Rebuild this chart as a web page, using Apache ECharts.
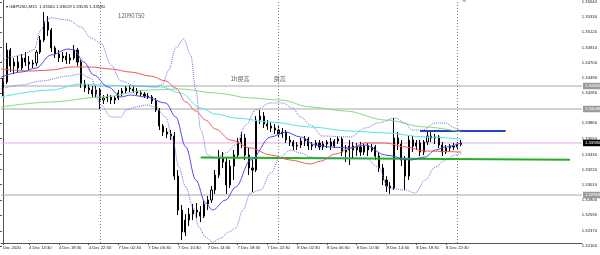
<!DOCTYPE html>
<html><head><meta charset="utf-8">
<script src="https://cdn.jsdelivr.net/npm/echarts@6/dist/echarts.min.js"></script>
<style>html,body{margin:0;padding:0;background:#fff;overflow:hidden}#c{width:600px;height:255px}</style>
</head><body><div id="c"></div>
<script>
// ---------- data ----------
const symbolName = 'GBPUSD,M15';
const lastBarOHLC = ['1.33560', '1.33619', '1.33535', '1.33580'];
// one candle per 30-minute slot, starting 4 Dec 11:00: [open, close, low, high]
const candles = [
[1.34338,1.34420,1.34227,1.34475],[1.34420,1.34861,1.34393,1.34958],[1.34861,1.34640,1.34557,1.34889],[1.34640,1.34695,1.34530,1.34751],
[1.34695,1.34613,1.34557,1.34778],[1.34613,1.34751,1.34585,1.34806],[1.34751,1.34695,1.34640,1.34833],[1.34695,1.34668,1.34585,1.34778],
[1.34668,1.34682,1.34613,1.34723],[1.34682,1.34833,1.34640,1.34861],[1.34833,1.34999,1.34806,1.35054],[1.34999,1.35246,1.34971,1.35384],
[1.35246,1.35137,1.35054,1.35329],[1.35137,1.34889,1.34833,1.35164],[1.34889,1.34806,1.34751,1.34916],[1.34806,1.34751,1.34695,1.34861],
[1.34751,1.34778,1.34695,1.34833],[1.34778,1.34723,1.34668,1.34833],[1.34723,1.34751,1.34668,1.34806],[1.34751,1.34861,1.34723,1.34930],
[1.34861,1.34695,1.34640,1.34889],[1.34695,1.34393,1.34338,1.34723],[1.34393,1.34338,1.34282,1.34448],[1.34338,1.34310,1.34255,1.34393],
[1.34310,1.34255,1.34200,1.34365],[1.34255,1.34310,1.34200,1.34365],[1.34310,1.34172,1.34048,1.34338],[1.34172,1.34200,1.34117,1.34241],
[1.34200,1.34214,1.34144,1.34255],[1.34214,1.34172,1.34117,1.34241],[1.34172,1.34200,1.34117,1.34227],[1.34200,1.34269,1.34172,1.34310],
[1.34269,1.34296,1.34227,1.34338],[1.34296,1.34338,1.34255,1.34365],[1.34338,1.34324,1.34282,1.34379],[1.34324,1.34296,1.34269,1.34365],
[1.34296,1.34269,1.34241,1.34338],[1.34269,1.34255,1.34227,1.34310],[1.34255,1.34227,1.34200,1.34282],[1.34227,1.34214,1.34186,1.34269],
[1.34214,1.34158,1.34117,1.34241],[1.34158,1.34034,1.34006,1.34200],[1.34034,1.33813,1.33759,1.34062],[1.33813,1.33731,1.33676,1.33841],
[1.33731,1.33704,1.33649,1.33786],[1.33704,1.33676,1.33621,1.33759],[1.33676,1.33124,1.33070,1.33731],[1.33124,1.32656,1.32587,1.33207],
[1.32656,1.32353,1.32243,1.32725],[1.32353,1.32518,1.32298,1.32601],[1.32518,1.32601,1.32435,1.32684],[1.32601,1.32656,1.32518,1.32739],
[1.32656,1.32628,1.32546,1.32753],[1.32628,1.32573,1.32490,1.32711],[1.32573,1.32739,1.32546,1.32794],[1.32739,1.32794,1.32656,1.32849],
[1.32794,1.32932,1.32753,1.32987],[1.32932,1.33138,1.32877,1.33207],[1.33138,1.33373,1.33097,1.33483],[1.33373,1.33317,1.33235,1.33455],
[1.33317,1.33001,1.32877,1.33373],[1.33001,1.33262,1.32960,1.33345],[1.33262,1.33414,1.33070,1.33483],[1.33414,1.33593,1.33373,1.33649],
[1.33593,1.33649,1.33511,1.33731],[1.33649,1.33414,1.33345,1.33704],[1.33414,1.33235,1.33138,1.33511],[1.33235,1.33207,1.32904,1.33345],
[1.33207,1.33896,1.33179,1.33951],[1.33896,1.33951,1.33841,1.34034],[1.33951,1.33841,1.33786,1.34006],[1.33841,1.33813,1.33759,1.33896],
[1.33813,1.33786,1.33731,1.33868],[1.33786,1.33759,1.33704,1.33841],[1.33759,1.33704,1.33649,1.33813],[1.33704,1.33731,1.33649,1.33786],
[1.33731,1.33621,1.33580,1.33759],[1.33621,1.33593,1.33538,1.33676],[1.33593,1.33538,1.33483,1.33621],[1.33538,1.33552,1.33483,1.33593],
[1.33552,1.33607,1.33511,1.33649],[1.33607,1.33635,1.33538,1.33676],[1.33635,1.33538,1.33483,1.33663],[1.33538,1.33552,1.33483,1.33593],
[1.33552,1.33580,1.33511,1.33621],[1.33580,1.33525,1.33483,1.33621],[1.33525,1.33566,1.33483,1.33607],[1.33566,1.33593,1.33511,1.33621],
[1.33593,1.33538,1.33483,1.33649],[1.33538,1.33607,1.33511,1.33635],[1.33607,1.33635,1.33566,1.33676],[1.33635,1.33455,1.33400,1.33663],
[1.33455,1.33483,1.33317,1.33552],[1.33483,1.33538,1.33276,1.33621],[1.33538,1.33483,1.33373,1.33593],[1.33483,1.33525,1.33400,1.33580],
[1.33525,1.33455,1.33400,1.33593],[1.33455,1.33538,1.33414,1.33566],[1.33538,1.33483,1.33400,1.33580],[1.33483,1.33525,1.33455,1.33566],
[1.33525,1.33400,1.33345,1.33552],[1.33400,1.33235,1.33179,1.33455],[1.33235,1.33070,1.33001,1.33290],[1.33070,1.32987,1.32904,1.33124],
[1.32987,1.32960,1.32877,1.33042],[1.32960,1.33649,1.32932,1.33924],[1.33649,1.33566,1.33483,1.33731],[1.33566,1.33345,1.33262,1.33621],
[1.33345,1.33124,1.32932,1.33400],[1.33124,1.33621,1.33070,1.33676],[1.33621,1.33538,1.33455,1.33676],[1.33538,1.33580,1.33483,1.33621],
[1.33580,1.33455,1.33400,1.33621],[1.33455,1.33593,1.33414,1.33621],[1.33593,1.33676,1.33552,1.33731],[1.33676,1.33649,1.33593,1.33731],
[1.33649,1.33663,1.33566,1.33704],[1.33663,1.33552,1.33511,1.33690],[1.33552,1.33455,1.33400,1.33593],[1.33455,1.33511,1.33428,1.33552],
[1.33511,1.33538,1.33455,1.33566],[1.33538,1.33525,1.33483,1.33580],[1.33525,1.33566,1.33483,1.33593],[1.33560,1.33580,1.33535,1.33619]
];
// indicator curves: [time slot, price]
const redMA = [[-0.5,1.34599],[7.5,1.34571],[12.9,1.34585],[18.3,1.34627],[23.6,1.34627],[29,1.34599],[34.3,1.34557],[39.7,1.34502],[43.7,1.34434],[46.4,1.34338],[49.1,1.34144],[51.8,1.34020],[54.4,1.33896],[57.1,1.33772],[61.1,1.33621],[66.5,1.33511],[71.9,1.33414],[77.2,1.33345],[82.6,1.33290],[85.3,1.33331],[89.3,1.33428],[93.3,1.33511],[97.3,1.33580],[102.7,1.33580],[108,1.33525],[113.4,1.33469],[123,1.33455]];
const cyanMA = [[-0.5,1.34214],[12.9,1.34310],[20.9,1.34393],[26.3,1.34379],[34.3,1.34365],[42.4,1.34352],[47.7,1.34269],[53.1,1.34062],[57.1,1.33979],[62.5,1.33924],[71.9,1.33868],[82.6,1.33800],[93.3,1.33745],[102.7,1.33718],[113.4,1.33663],[123,1.33635]];
const greenMA = [[-0.5,1.34076],[12.9,1.34144],[26.3,1.34214],[39.7,1.34310],[47.7,1.34324],[57.1,1.34269],[66.5,1.34200],[74.5,1.34172],[82.6,1.34076],[92,1.34020],[102.7,1.33896],[113.4,1.33800],[123,1.33731]];
const bbMid = [[-0.5,1.34489],[4.9,1.34557],[8.9,1.34613],[12.9,1.34792],[17.5,1.34875],[19.1,1.34861],[21.7,1.34695],[24.4,1.34516],[28.2,1.34352],[31.7,1.34214],[34.3,1.34241],[38.4,1.34214],[43.7,1.34131],[46.4,1.33938],[49.1,1.33525],[51.8,1.33070],[54.4,1.32753],[56.3,1.32656],[59.8,1.32794],[62.5,1.32973],[66.5,1.33345],[71.9,1.33663],[75.9,1.33731],[79.9,1.33663],[83.9,1.33552],[87.9,1.33525],[93.3,1.33511],[97.3,1.33552],[102.7,1.33414],[109.4,1.33345],[113.4,1.33387],[116.1,1.33483],[118.8,1.33525],[123,1.33580]];
const bbUpper = [[-0.5,1.34695],[2.2,1.34765],[4.9,1.34792],[8.3,1.34861],[10.2,1.35137],[11.6,1.35274],[12.9,1.35302],[17.5,1.35274],[20.9,1.35178],[23.6,1.35027],[26.3,1.34958],[29,1.34654],[31.7,1.34434],[35.7,1.34365],[41,1.34352],[42.9,1.34393],[44.5,1.34585],[46.4,1.34889],[48.5,1.35013],[50.4,1.34792],[51.8,1.34310],[53.1,1.33759],[55,1.33414],[57.1,1.33373],[59.8,1.33442],[62.5,1.33552],[65.2,1.33827],[67.8,1.34034],[71.9,1.34131],[75.1,1.34131],[77.8,1.34062],[79.9,1.33938],[82.6,1.33827],[85.8,1.33676],[93.3,1.33663],[97.3,1.33786],[100.8,1.33855],[105.4,1.33924],[108,1.33855],[109.9,1.33759],[112.6,1.33759],[116.1,1.33855],[118.8,1.33855],[121.4,1.33786],[123,1.33731]];
const bbLower = [[-0.5,1.34324],[4.9,1.34379],[10.2,1.34434],[17.5,1.34502],[20.9,1.34530],[23.6,1.34475],[26.3,1.34103],[29,1.33938],[31.7,1.33938],[33,1.34034],[35.7,1.34076],[38.4,1.34103],[41,1.34076],[43.7,1.33938],[45.6,1.33621],[47.2,1.33249],[49.1,1.32973],[51,1.32698],[52.6,1.32422],[54.4,1.32284],[56.3,1.32215],[58.5,1.32270],[60.6,1.32353],[62.5,1.32408],[64.4,1.32656],[66.5,1.32891],[69.2,1.32932],[71.9,1.33166],[74.5,1.33387],[77.2,1.33483],[79.9,1.33442],[82.6,1.33387],[87.9,1.33373],[93.3,1.33373],[97.3,1.33373],[100.8,1.33249],[103.5,1.32960],[108,1.32932],[110.7,1.32891],[113.4,1.33070],[116.1,1.33249],[118.8,1.33345],[121.4,1.33414],[123,1.33442]];
// drawn objects
const blueLevel = [[112,1.33745],[135,1.33745]];
const greenTrend = [[53.1,1.33379],[152.3,1.33349]];
const grayLevels = [1.34365, 1.34048, 1.32863];
const bidPrice = 1.33580;
const annotationTexts = ['12090750', '1h戻高', '戻高'];
const annotationSlots = [30.9, 61.1, 72.7];
const annotationPrices = [1.35329, 1.34461, 1.34461];
const arrowMark = [[123.9, 1.35545]];
const yTickLabels = ['1.35540','1.35330','1.35120','1.34910','1.34700','1.34490','1.34280','1.33860','1.33650','1.33430','1.33220','1.33010','1.32800','1.32590','1.32370','1.32160'];
const slotCount = 156;

// ---------- time categories (30 min slots, weekend skipped) ----------
const cats = []; const catMin = [];
{ let d = 4, m = 11 * 60;
  for (let k = 0; k < slotCount; k++) {
    const hh = String(Math.floor(m / 60)).padStart(2, '0'), mm = String(m % 60).padStart(2, '0');
    cats.push(d + ' Dec ' + hh + ':' + mm); catMin.push(m);
    m += 30; if (m >= 1440) { m -= 1440; d = (d === 4) ? 7 : d + 1; }
  } }
const showTick = (i) => i < candles.length && (i === 0 || catMin[i] % 240 === 150);
const daySeps = catMin.map((m, i) => (m === 0 ? i : -1)).filter(i => i >= 0);

const FONT = 'Liberation Sans';
const chart = echarts.init(document.getElementById('c'), null, { renderer: 'canvas' });
const lineS = (data, color, type, width) => ({
  type: 'line', xAxisIndex: 1, yAxisIndex: 0, data, showSymbol: false, symbol: 'none',
  smooth: 0.35, smoothMonotone: 'x', silent: true, z: 4,
  lineStyle: { color, width: width || 1, type: type || 'solid' }
});
const levelS = (v, color, boxColor) => ({
  type: 'line', xAxisIndex: 1, yAxisIndex: 0, data: [[-0.5, v], [slotCount - 0.5, v]],
  showSymbol: false, symbol: 'none', silent: true, z: 1, clip: false,
  lineStyle: { color, width: 1 },
  endLabel: { show: true, distance: 1, formatter: () => v.toFixed(5), fontSize: 4.2, color: '#fff',
    backgroundColor: boxColor, padding: [1.5, 2, 1, 2], fontFamily: FONT }
});

chart.setOption({
  animation: false,
  backgroundColor: '#ffffff',
  title: { text: '▾ ' + symbolName + '  ' + lastBarOHLC.join(' '), left: 1, top: 0,
    textStyle: { fontSize: 4.3, fontWeight: 'normal', color: '#111', fontFamily: FONT } },
  grid: [
    { left: 0, top: 0, width: 582, height: 243 },
    { left: 0, top: 0, width: 582, height: 247 }
  ],
  xAxis: [
    { type: 'category', gridIndex: 0, data: cats, boundaryGap: true,
      axisLine: { show: true, lineStyle: { color: '#555', width: 1 } },
      axisTick: { show: true, interval: (i) => showTick(i), alignWithLabel: true, length: 2, lineStyle: { color: '#555' } },
      axisLabel: { show: true, interval: (i) => showTick(i),
        formatter: (v, i) => (i === 0 ? 'Dec 2020' : v), align: 'left', margin: 3,
        fontSize: 4.2, color: '#222', fontFamily: FONT },
      splitLine: { show: false } },
    { type: 'value', gridIndex: 0, min: -0.5, max: slotCount - 0.5, show: false },
    { type: 'value', gridIndex: 1, min: 0, max: 1, show: false }
  ],
  yAxis: [
    { type: 'value', gridIndex: 0, position: 'right', min: 1.32202, max: 1.35550, scale: true,
      axisLine: { show: true, lineStyle: { color: '#555', width: 1 } },
      axisTick: { show: false }, axisLabel: { show: false }, splitLine: { show: false } },
    { type: 'value', gridIndex: 1, position: 'right', min: 1.32147, max: 1.35550, scale: true,
      axisLine: { show: false },
      axisTick: { show: true, length: 2, customValues: yTickLabels.map(Number), lineStyle: { color: '#555' } },
      axisLabel: { show: true, customValues: yTickLabels.map(Number), margin: 3,
        formatter: (v) => v.toFixed(5), fontSize: 4.2, color: '#222', fontFamily: FONT },
      splitLine: { show: false } }
  ],
  series: [
    ...grayLevels.map(v => levelS(v, '#a8a8a8', '#9a9a9a')),
    levelS(bidPrice, '#e4a8e4', '#000000'),
    { type: 'line', xAxisIndex: 1, yAxisIndex: 0, data: [], silent: true, z: 1,
      markLine: { silent: true, symbol: ['none', 'none'], animation: false,
        lineStyle: { color: '#808080', width: 1, type: [1, 2] }, label: { show: false },
        data: daySeps.map(i => ({ xAxis: i })) } },
    lineS(greenTrend, '#22b022', 'solid', 2),
    lineS(blueLevel, '#2a40c8', 'solid', 2),
    { type: 'candlestick', xAxisIndex: 0, yAxisIndex: 0, data: candles, barWidth: 1.6, z: 3, silent: true,
      itemStyle: { color: '#ffffff', color0: '#000000', borderColor: '#000000', borderColor0: '#000000', borderWidth: 1 } },
    lineS(greenMA, '#84dc84'),
    lineS(cyanMA, '#55e6e6'),
    lineS(redMA, '#f05a5a'),
    lineS(bbMid, '#4a4af0'),
    lineS(bbUpper, '#7070e6', 'dotted'),
    lineS(bbLower, '#7070e6', 'dotted'),
    { type: 'scatter', xAxisIndex: 1, yAxisIndex: 0, silent: true, z: 5, symbolSize: 0,
      data: annotationTexts.map((t, i) => ({ name: t, value: [annotationSlots[i], annotationPrices[i]] })),
      label: { show: true, position: 'right', distance: 0, formatter: (p) => p.name,
        fontSize: 6, color: '#333', fontFamily: "'Noto Sans CJK JP', 'Liberation Sans'" } },
    { type: 'scatter', xAxisIndex: 1, yAxisIndex: 0, silent: true, z: 5, symbol: 'diamond', symbolSize: 4,
      data: arrowMark, itemStyle: { color: '#e070e0' } }
  ]
});
</script></body></html>
